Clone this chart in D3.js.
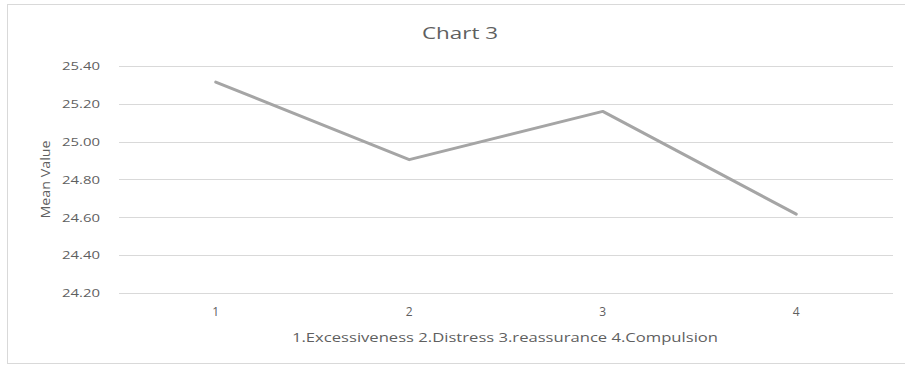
<!DOCTYPE html>
<html>
<head>
<meta charset="utf-8">
<script src="https://cdn.jsdelivr.net/npm/d3@7"></script>
<style>
  html, body { margin: 0; padding: 0; background: #fff; }
  svg { display: block; }
  text { font-family: "Open Sans", "Noto Sans", sans-serif; fill: #5f5f5f; }
</style>
</head>
<body>
<div id="chart"></div>
<script>
// Categories along the x axis and their mean values
const categories = ["1", "2", "3", "4"];
const meanValues = [25.315, 24.905, 25.16, 24.617];
const yTicks = [24.20, 24.40, 24.60, 24.80, 25.00, 25.20, 25.40];
const chartTitle = "Chart 3";
const yTitle = "Mean Value";
const xTitle = "1.Excessiveness 2.Distress 3.reassurance 4.Compulsion";

const width = 905, height = 368;
const plot = { left: 119, right: 893, top: 66, bottom: 293 };

const svg = d3.select("#chart").append("svg")
  .attr("width", width).attr("height", height);

// Chart frame
svg.append("rect")
  .attr("x", 7.5).attr("y", 4.5)
  .attr("width", 905).attr("height", 359)
  .attr("fill", "#fff").attr("stroke", "#d9d9d9").attr("stroke-width", 1);

const x = d3.scaleBand().domain(categories).range([plot.left, plot.right]);
const y = d3.scaleLinear().domain([24.20, 25.40]).range([plot.bottom, plot.top]);

// Horizontal gridlines
svg.append("g")
  .selectAll("line").data(yTicks).join("line")
  .attr("x1", plot.left).attr("x2", plot.right)
  .attr("y1", d => Math.round(y(d)) + 0.5).attr("y2", d => Math.round(y(d)) + 0.5)
  .attr("stroke", "#d9d9d9").attr("stroke-width", 1);

// Y axis labels (wide, condensed-looking figures)
const yAxis = svg.append("g")
  .attr("transform", `translate(${plot.left - 19},0)`)
  .call(d3.axisLeft(y).tickValues(yTicks).tickFormat(d3.format(".2f")).tickSize(0).tickPadding(0));
yAxis.select(".domain").remove();
yAxis.selectAll("text")
  .style("font-size", "11.5px")
  .attr("fill", "#5f5f5f")
  .attr("textLength", 38)
  .attr("lengthAdjust", "spacingAndGlyphs");

// X axis labels
const xAxis = svg.append("g")
  .attr("transform", `translate(0,${plot.bottom})`)
  .call(d3.axisBottom(x).tickSize(0).tickPadding(14));
xAxis.select(".domain").remove();
xAxis.selectAll("text").style("font-size", "12px").attr("fill", "#5f5f5f");

// Series line
const line = d3.line()
  .x((d, i) => x(categories[i]) + x.bandwidth() / 2)
  .y(d => y(d));
svg.append("path")
  .datum(meanValues)
  .attr("d", line)
  .attr("fill", "none")
  .attr("stroke", "#a5a5a5")
  .attr("stroke-width", 3)
  .attr("stroke-linejoin", "round")
  .attr("stroke-linecap", "round");

// Titles
svg.append("text")
  .attr("x", 460).attr("y", 39)
  .attr("text-anchor", "middle")
  .style("font-size", "17px")
  .attr("textLength", 76)
  .attr("lengthAdjust", "spacingAndGlyphs")
  .text(chartTitle);

svg.append("text")
  .attr("transform", `translate(50,${(plot.top + plot.bottom) / 2}) rotate(-90)`)
  .attr("text-anchor", "middle")
  .style("font-size", "12.5px")
  .attr("textLength", 78)
  .attr("lengthAdjust", "spacingAndGlyphs")
  .text(yTitle);

svg.append("text")
  .attr("x", 505).attr("y", 342)
  .attr("text-anchor", "middle")
  .style("font-size", "12.5px")
  .attr("textLength", 426)
  .attr("lengthAdjust", "spacingAndGlyphs")
  .text(xTitle);
</script>
</body>
</html>
